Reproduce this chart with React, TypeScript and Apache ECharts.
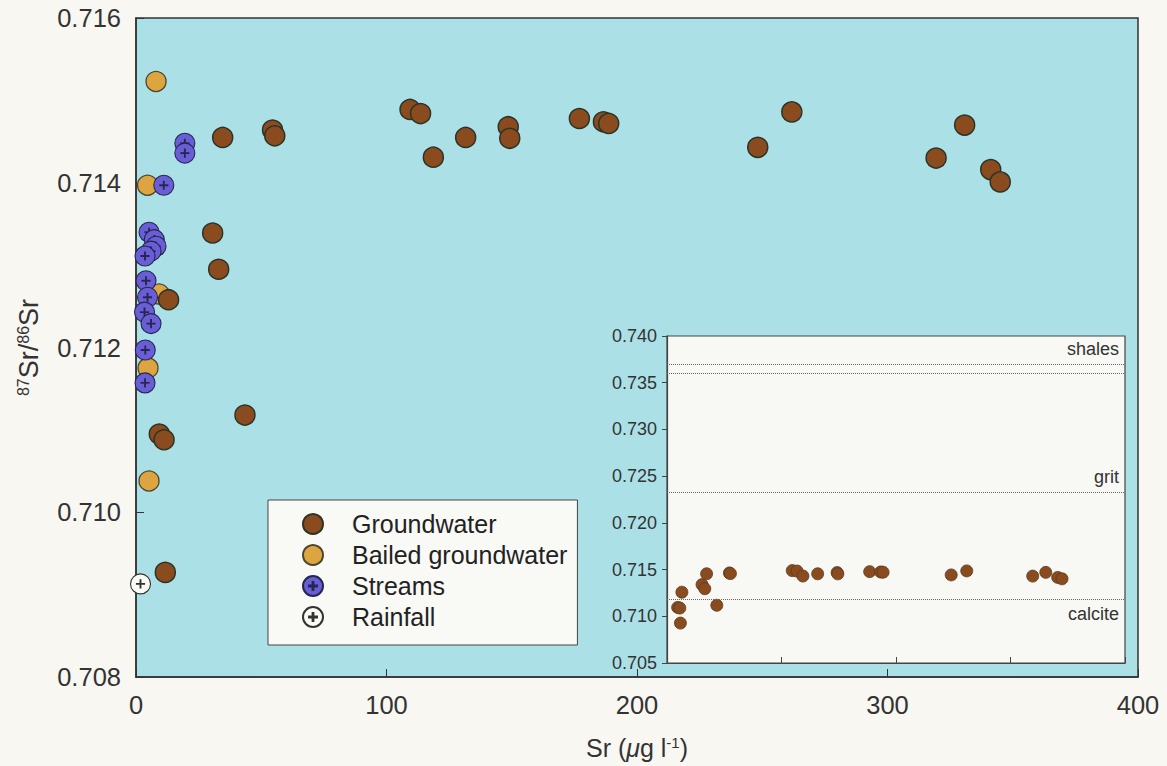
import React, { useEffect, useRef } from 'react';
import * as echarts from 'echarts';

// ---- data (Sr in µg/l, 87Sr/86Sr) ----
const groundwaterSr = [9.3, 11.2, 11.7, 13.0, 30.6, 33.0, 34.6, 43.5, 54.5, 55.4, 109.4, 113.6, 118.7, 131.6, 148.6, 149.2, 177.0, 186.6, 188.7, 248.2, 261.8, 319.4, 330.8, 341.2, 345.0];
const groundwaterRatio = [0.71095, 0.71088, 0.70927, 0.71258, 0.71339, 0.71295, 0.71455, 0.71118, 0.71464, 0.71457, 0.71489, 0.71484, 0.71431, 0.71455, 0.71468, 0.71454, 0.71478, 0.71474, 0.71472, 0.71443, 0.71486, 0.7143, 0.7147, 0.71416, 0.71401];

const bailedSr = [8.0, 4.6, 9.2, 4.8, 5.2];
const bailedRatio = [0.71523, 0.71397, 0.71265, 0.71175, 0.71038];

const streamsSr = [19.5, 19.5, 11.1, 5.2, 7.3, 8.0, 6.0, 3.6, 4.0, 4.6, 3.4, 6.0, 3.7, 3.6];
const streamsRatio = [0.71448, 0.71436, 0.71397, 0.7134, 0.71331, 0.71323, 0.71317, 0.71311, 0.71281, 0.71261, 0.71243, 0.71229, 0.71197, 0.71157];

const rainfallSr = [1.8];
const rainfallRatio = [0.70913];

const xTickLabels = [0, 100, 200, 300, 400];
const yTickLabels = [0.708, 0.71, 0.712, 0.714, 0.716];
const insetYTickLabels = [0.705, 0.71, 0.715, 0.72, 0.725, 0.73, 0.735, 0.74];

const refLineValues = [0.737, 0.736, 0.7233, 0.7118];
const refLineNames = ['shales', '', 'grit', 'calcite'];

const legendNames = ['Groundwater', 'Bailed groundwater', 'Streams', 'Rainfall'];

const FONT = '"Liberation Sans", Arial, Helvetica, sans-serif';
const TEXT = '#333';
const CIRCLE_PLUS =
  'path://M10,0 A10,10 0 1,1 10,20 A10,10 0 1,1 10,0 Z M9.6,6 L9.6,9.6 L6,9.6 L6,10.4 L9.6,10.4 L9.6,14 L10.4,14 L10.4,10.4 L14,10.4 L14,9.6 L10.4,9.6 L10.4,6 Z';

const pairs = (xs: number[], ys: number[]) => xs.map((x, i) => [x, ys[i]]);

export default function App() {
  const ref = useRef<HTMLDivElement>(null);

  useEffect(() => {
    document.body.style.margin = '0';
    document.body.style.background = '#f8f7f1';
    if (!ref.current) return;
    const chart = echarts.init(ref.current, null, { renderer: 'svg' });

    const yMin = yTickLabels[0];
    const yMax = yTickLabels[yTickLabels.length - 1];

    const option: any = {
      animation: false,
      backgroundColor: '#f8f7f1',
      textStyle: { fontFamily: FONT },
      grid: [
        {
          left: 136, top: 18, width: 1002, height: 659,
          show: true, backgroundColor: '#ace0e7', borderColor: '#333', borderWidth: 1.5,
        },
        {
          left: 667, top: 336, width: 458, height: 327,
          show: true, backgroundColor: '#f8f8f4', borderColor: '#444', borderWidth: 1.2,
        },
      ],
      xAxis: [
        {
          gridIndex: 0, type: 'value',
          min: xTickLabels[0], max: xTickLabels[xTickLabels.length - 1], interval: 100,
          name: 'Sr ({it|μ}g l{sup|-1})',
          nameLocation: 'middle', nameGap: 58,
          nameTextStyle: {
            fontSize: 25, color: TEXT, fontFamily: FONT,
            rich: {
              it: { fontSize: 25, fontStyle: 'italic', color: TEXT, fontFamily: FONT },
              sup: { fontSize: 15, verticalAlign: 'top', color: TEXT, fontFamily: FONT },
            },
          },
          axisLine: { lineStyle: { color: '#333', width: 1.5 } },
          axisTick: { inside: true, length: 8, lineStyle: { color: '#333' } },
          axisLabel: { fontSize: 25.5, color: TEXT, margin: 15, fontFamily: FONT },
          splitLine: { show: false },
        },
        {
          gridIndex: 1, type: 'value', min: 0, max: 400, interval: 100,
          axisLine: { lineStyle: { color: '#444', width: 1.2 } },
          axisTick: { inside: true, length: 6, lineStyle: { color: '#444' } },
          axisLabel: { show: false },
          splitLine: { show: false },
        },
      ],
      yAxis: [
        {
          gridIndex: 0, type: 'value', min: yMin, max: yMax, interval: 0.002,
          name: '{sup|87}Sr/{sup|86}Sr',
          nameLocation: 'middle', nameGap: 94,
          nameTextStyle: {
            fontSize: 27, color: TEXT, fontFamily: FONT,
            rich: {
              sup: { fontSize: 16, verticalAlign: 'top', color: TEXT, fontFamily: FONT },
            },
          },
          axisLine: { lineStyle: { color: '#333', width: 1.5 } },
          axisTick: { inside: true, length: 8, lineStyle: { color: '#333' } },
          axisLabel: { fontSize: 25.5, color: TEXT, margin: 15, fontFamily: FONT, formatter: (v: number) => v.toFixed(3) },
          splitLine: { show: false },
        },
        {
          gridIndex: 1, type: 'value',
          min: insetYTickLabels[0], max: insetYTickLabels[insetYTickLabels.length - 1], interval: 0.005,
          axisLine: { lineStyle: { color: '#444', width: 1.2 } },
          axisTick: { inside: false, length: 5, lineStyle: { color: '#444' } },
          axisLabel: { fontSize: 18, color: TEXT, margin: 10, fontFamily: FONT, formatter: (v: number) => v.toFixed(3) },
          splitLine: { show: false },
        },
      ],
      legend: {
        orient: 'vertical', left: 268, top: 500,
        data: [
          { name: legendNames[0], icon: 'circle' },
          { name: legendNames[1], icon: 'circle' },
          { name: legendNames[2], icon: CIRCLE_PLUS },
          { name: legendNames[3], icon: CIRCLE_PLUS },
        ],
        itemWidth: 20, itemHeight: 20, itemGap: 5,
        padding: [11, 10, 15, 34],
        backgroundColor: '#f9f9f6', borderColor: '#444', borderWidth: 1, borderRadius: 0,
        selectedMode: false,
        textStyle: { fontSize: 25, color: '#222', fontFamily: FONT, lineHeight: 26, padding: [0, 0, 0, 24] },
      },
      series: [
        {
          name: legendNames[1], type: 'scatter', xAxisIndex: 0, yAxisIndex: 0,
          data: pairs(bailedSr, bailedRatio), symbol: 'circle', symbolSize: 20,
          itemStyle: { color: '#dca540', borderColor: '#4a4630', borderWidth: 1.3, opacity: 1 },
        },
        {
          name: legendNames[0], type: 'scatter', xAxisIndex: 0, yAxisIndex: 0,
          data: pairs(groundwaterSr, groundwaterRatio), symbol: 'circle', symbolSize: 20,
          itemStyle: { color: '#8a4b1f', borderColor: '#2c3428', borderWidth: 1.5, opacity: 1 },
        },
        {
          name: legendNames[2], type: 'scatter', xAxisIndex: 0, yAxisIndex: 0,
          data: pairs(streamsSr, streamsRatio), symbol: CIRCLE_PLUS, symbolSize: 20,
          itemStyle: { color: '#6a5ed6', borderColor: '#262650', borderWidth: 1.1, opacity: 1 },
        },
        {
          name: legendNames[3], type: 'scatter', xAxisIndex: 0, yAxisIndex: 0,
          data: pairs(rainfallSr, rainfallRatio), symbol: CIRCLE_PLUS, symbolSize: 20,
          itemStyle: { color: '#fbfbf6', borderColor: '#333', borderWidth: 1.1, opacity: 1 },
        },
        {
          name: 'Groundwater inset', type: 'scatter', xAxisIndex: 1, yAxisIndex: 1,
          data: pairs(groundwaterSr, groundwaterRatio), symbol: 'circle', symbolSize: 12,
          itemStyle: { color: '#8a4b1f', borderColor: '#5a3a20', borderWidth: 0.8, opacity: 1 },
          markLine: {
            silent: true, symbol: ['none', 'none'], precision: 4,
            lineStyle: { type: 'dotted', color: '#666', width: 1 },
            data: refLineValues.map((v, i) => ({
              yAxis: v,
              label: {
                show: refLineNames[i] !== '',
                formatter: refLineNames[i],
                position: refLineNames[i] === 'calcite' ? 'insideEndBottom' : 'insideEndTop',
                fontSize: 18, color: TEXT, fontFamily: FONT, distance: 6,
              },
            })),
          },
        },
      ],
    };

    chart.setOption(option);
    return () => chart.dispose();
  }, []);

  return (
    <div
      ref={ref}
      style={{ position: 'fixed', left: 0, top: 0, width: 1167, height: 766 }}
    />
  );
}
